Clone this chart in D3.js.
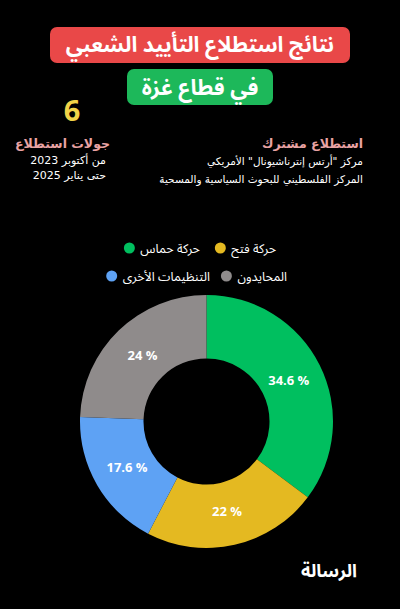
<!DOCTYPE html>
<html><head><meta charset="utf-8">
<script src="https://cdn.jsdelivr.net/npm/d3@7"></script>
<style>
html,body{margin:0;padding:0;background:#000;}
svg{display:block;}
text{font-family:"Noto Sans Arabic","Noto Sans","DejaVu Sans",sans-serif;}
text.dv{font-family:"DejaVu Sans",sans-serif;}
</style></head><body>
<script>
const categories = ["حركة حماس","حركة فتح","التنظيمات الأخرى","المحايدون"];
const values = [34.6,22,17.6,24];
const labels = ["34.6 %","22 %","17.6 %","24 %"];
const colors = ["#00bf5f","#e4b921","#5ea2f4","#8f8b8b"];
const legendOrder = [[1,0],[3,2]];

const W=400,H=609;
const svg=d3.select("body").append("svg").attr("width",W).attr("height",H);
svg.append("rect").attr("width",W).attr("height",H).attr("fill","#000");

// right-aligned Arabic text helper (RTL: anchor start = right edge)
function rtext(x,y,txt,size,fill,bold){
  return svg.append("text").attr("x",x).attr("y",y).attr("direction","rtl")
    .attr("text-anchor","start").attr("fill",fill).attr("font-size",size)
    .attr("font-weight",bold?"bold":"normal").text(txt);
}

// title boxes
svg.append("rect").attr("x",50).attr("y",27).attr("width",300).attr("height",36).attr("rx",7).attr("fill","#e94848");
svg.append("text").attr("x",200).attr("y",52).attr("text-anchor","middle").attr("fill","#fff")
 .attr("font-size",21.5).attr("font-weight","bold").attr("direction","rtl").text("نتائج استطلاع التأييد الشعبي");
svg.append("rect").attr("x",127).attr("y",69).attr("width",146).attr("height",36).attr("rx",7).attr("fill","#1db85a");
svg.append("text").attr("x",200).attr("y",95).attr("text-anchor","middle").attr("fill","#fff")
 .attr("font-size",21.5).attr("font-weight","bold").attr("direction","rtl").text("في قطاع غزة");

// left info
svg.append("text").attr("x",72).attr("y",121).attr("text-anchor","middle").attr("fill","#f2d348")
 .attr("font-size",29).attr("font-weight","bold").attr("font-family","Lato, 'Open Sans', sans-serif").text("6");
rtext(110,148,"جولات استطلاع",12.5,"#e9a3a3",true).attr("class","dv");
rtext(106,164,"من أكتوبر 2023",11,"#fff",false).attr("class","dv");
rtext(106,179,"حتى يناير 2025",11,"#fff",false).attr("class","dv");

// right info
rtext(363,148,"استطلاع مشترك",12.5,"#e9a3a3",true).attr("class","dv");
rtext(363,165,"مركز \"أرتس إنترناشيونال\" الأمريكي",10.5,"#fff",false).attr("class","dv");
rtext(363,183,"المركز الفلسطيني للبحوث السياسية والمسحية",10.5,"#fff",false).attr("class","dv");

// legend
const legX=[[276,200],[287,210]];
const legY=[248,276];
legendOrder.forEach((row,ri)=>{
  row.forEach((ci,k)=>{
    const t=rtext(legX[ri][k],legY[ri]+4.5,categories[ci],12.5,"#fff",false);
    const w=t.node().getComputedTextLength();
    svg.append("circle").attr("cx",legX[ri][k]-w-11).attr("cy",legY[ri]).attr("r",5.5).attr("fill",colors[ci]);
  });
});

// donut
const cx=206.5, cy=421.5, R=126.5, r=63;
const pie=d3.pie().sort(null).value(d=>d)(values);
const arc=d3.arc().innerRadius(r).outerRadius(R);
const g=svg.append("g").attr("transform",`translate(${cx},${cy})`);
g.selectAll("path").data(pie).join("path").attr("d",arc).attr("fill",(d,i)=>colors[i]);
const larc=d3.arc().innerRadius(92).outerRadius(92);
g.selectAll("text.lbl").data(pie).join("text").attr("class","lbl")
 .attr("transform",d=>`translate(${larc.centroid(d)})`)
 .attr("text-anchor","middle").attr("dy","0.35em").attr("fill","#fff")
 .attr("font-size",13).attr("font-weight","bold").attr("font-family","Lato, 'Open Sans', sans-serif")
 .text((d,i)=>labels[i]);

// logo
rtext(357,577,"الرسالة",18,"#fff",true);
</script>
</body></html>
